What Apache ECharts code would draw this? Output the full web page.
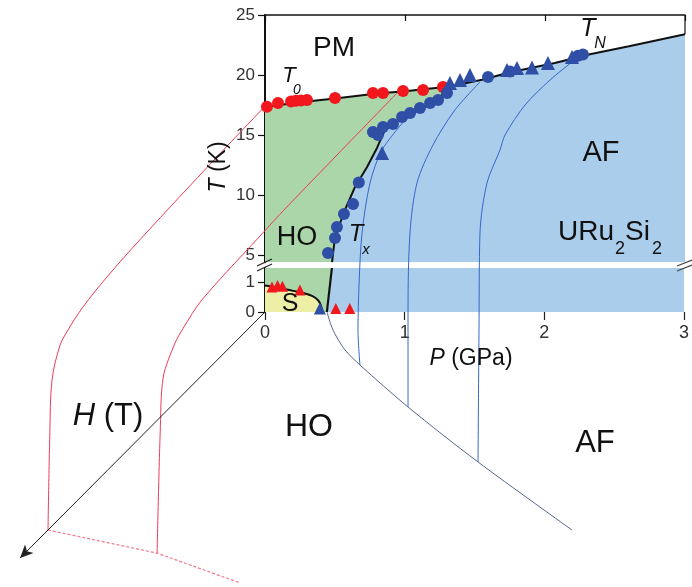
<!DOCTYPE html>
<html><head><meta charset="utf-8">
<script src="https://cdn.jsdelivr.net/npm/echarts@6/dist/echarts.min.js"></script>
<style>html,body{margin:0;padding:0;background:#fff}#c{width:692px;height:587px}</style>
</head><body><div id="c"></div>
<script>
// ---------- axis ticks ----------
const pTicks = [0, 1, 2, 3];
const tTicksUpper = [5, 10, 15, 20, 25];
const tTicksLower = [0, 1];

// ---------- phase boundaries (P in GPa, T in K) ----------
const t0Line = [[0,17.35],[0.3,17.8],[0.5,18.05],[0.8,18.45],[1.0,18.65],[1.32,19.05]];
const txLineUpper = [[0.479,4.4],[0.5,6.5],[0.571,8.75],[0.643,10.67],[0.729,12.33],[0.8,13.92],[0.857,15.42],[0.943,16.08],[1.1,17.1],[1.264,18.33],[1.32,19.05]];
const tnLine = [[1.32,19.05],[1.55,19.6],[1.76,20.25],[2.07,21.0],[2.33,21.75],[2.6,22.4],[3.0,23.4]];
const txLineLower = [[0.443,0],[0.479,1.5]];
const sBoundary = [[0,0.9],[0.1,0.82],[0.2,0.72],[0.28,0.64],[0.34,0.54],[0.38,0.4],[0.40,0.22],[0.412,0]];

// ---------- measured points ----------
const t0Points = [[0.014,17.35],[0.093,17.67],[0.186,17.8],[0.221,17.85],[0.257,17.88],[0.3,17.92],[0.5,18.08],[0.771,18.5],[0.843,18.5],[0.986,18.67],[1.129,18.75],[1.271,19.0]];
const txPoints = [[0.45,5.17],[0.5,6.42],[0.514,7.33],[0.564,8.42],[0.629,9.25],[0.67,11.05],[0.771,15.25],[0.807,15.0],[0.843,15.67],[0.914,15.92],[0.979,16.5],[1.036,16.83],[1.107,17.25],[1.179,17.67],[1.236,17.92],[1.3,18.5]];
const tnTriangles = [[0.836,13.5],[1.321,19.33],[1.393,19.58],[1.464,20.0],[1.729,20.42],[1.8,20.58],[1.907,20.62],[2.021,21.0],[2.193,21.5]];
const tnCircles = [[1.593,19.83],[1.75,20.3],[2.236,21.6],[2.271,21.7]];
const sTrianglesRed = [[0.05,0.85],[0.09,0.9],[0.125,0.88],[0.25,0.75]];
const zeroTrianglesRed = [[0.507,0.12],[0.607,0.12]];
const zeroTrianglesBlue = [[0.393,0.12]];

// ---------- perspective (H axis) curves ----------
// HO boundary T0(H) at fixed P
const hoCurveA_P = 0;
const hoCurveA_H = [0, 7.7, 20, 25.5, 29.4, 31.9, 33.1, 34.35, 34.7, 35];
const hoCurveA_T = [17.4, 17.2, 16.75, 16.4, 15.9, 15.2, 14.6, 12.4, 8.2, 0];
const hoCurveB_P = 0.943;
const hoCurveB_H = [0, 10.3, 18.9, 21, 31.45, 34.5, 35.8, 37.7, 38.2, 38.7];
const hoCurveB_T = [18.5, 18.35, 18.2, 18.1, 17.6, 16.8, 16.25, 14.4, 10, 0];
// HO critical field at T = 0
const hcLine_P = [0, 0.943, 1.75];
const hcLine_H = [35, 38.71, 43.5];
// AF boundary in P-H plane at T = 0
const afBase_P = [0.443, 0.564, 0.678, 0.842, 1.055, 1.697, 2.588, 3.743];
const afBase_H = [0, 2.09, 3.85, 6.1, 8.51, 15.25, 24.08, 35];
// TN(P) at fixed H
const afCurve1_H = 8.51;
const afCurve1_P = [1.055, 1.041, 1.049, 1.07, 1.127, 1.213, 1.377];
const afCurve1_T = [0, 1.19, 7.08, 11.25, 15.42, 18.17, 20.67];
const afCurve2_H = 15.25;
const afCurve2_P = [1.697, 1.697, 1.711, 1.761, 1.875, 2.032, 2.211];
const afCurve2_T = [0, 8.33, 14.75, 18.92, 22.08, 25.0, 27.33];
const afCurve3_H = 24.08;
const afCurve3_P = [2.588, 2.595, 2.602, 2.652, 2.745, 2.781, 2.924, 3.102, 3.259];
const afCurve3_T = [0, 11.25, 19.33, 23.5, 26.25, 27.5, 30.0, 32.08, 33.58];
const hAxisMax = 39.5;

// ---------- layout ----------
const L = {W:692, H:587, x0:265, pxPerGPa:140, upTop:15, upMin:4.4, upMax:25, pxPerKUp:12,
           lowTop:268, lowH:44, lowMax:1.5, hDx:6.2, hDy:6.229};
const upH = (L.upMax - L.upMin) * L.pxPerKUp;

function brokenToUpper(T){
  const yUp = t => L.upTop + (L.upMax - t) * L.pxPerKUp;
  const yLow = t => L.lowTop + L.lowH - t * (L.lowH / L.lowMax);
  let y;
  if (T >= L.upMin) y = yUp(T);
  else if (T <= L.lowMax) y = yLow(T);
  else { const f = (T - L.lowMax) / (L.upMin - L.lowMax); y = yLow(L.lowMax) + f * (yUp(L.upMin) - yLow(L.lowMax)); }
  return L.upMax - (y - L.upTop) / L.pxPerKUp;
}
function project(P, H, T){ return [P - H * L.hDx / L.pxPerGPa, brokenToUpper(T) - H * L.hDy / L.pxPerKUp]; }
const curveFixedP = (P, Hs, Ts) => Hs.map((h, i) => project(P, h, Ts[i]));
const curveFixedH = (H, Ps, Ts) => Ps.map((p, i) => project(p, H, Ts[i]));
const curveFixedT = (T, Ps, Hs) => Ps.map((p, i) => project(p, Hs[i], T));

const FONT = '"Liberation Sans", Arial, Helvetica, sans-serif';
const BLUE_FILL = '#aacdec', GREEN_FILL = '#aad6a9', YELLOW_FILL = '#eeefa6';
const RED_PT = '#f2171c', BLUE_PT = '#2f4ea6';
const RED_LINE = '#ee3b57', BLUE_LINE = '#3468c9';

function area(data, color, xi, yi, z){
  return {type:'line', xAxisIndex:xi, yAxisIndex:yi, data, symbol:'none', lineStyle:{width:0},
          areaStyle:{color, opacity:1, origin:'start'}, z, silent:true};
}
function line(data, color, width, xi, yi, z, extra){
  return Object.assign({type:'line', xAxisIndex:xi, yAxisIndex:yi, data, symbol:'none',
          lineStyle:{color, width}, z, silent:true, clip:false}, extra || {});
}
function pts(data, symbol, size, color, xi, yi, z){
  return {type:'scatter', xAxisIndex:xi, yAxisIndex:yi, data, symbol, symbolSize:size,
          itemStyle:{color, opacity:1}, z, silent:true, clip:false};
}
function txt(text, x, y, size, opts){
  return Object.assign({type:'text', x, y, z:100, style:Object.assign({text, fill:'#111',
    font: (opts && opts.italic ? 'italic ' : '') + size + 'px ' + FONT,
    fontSize:size, fontFamily:FONT, fontStyle:(opts && opts.italic) ? 'italic':'normal',
    align:(opts && opts.align) || 'center', textAlign:(opts && opts.align) || 'center',
    verticalAlign:'middle', textVerticalAlign:'middle'}, (opts && opts.style) || {})},
    (opts && opts.el) || {});
}

const chart = echarts.init(document.getElementById('c'), null, {renderer:'canvas'});
const axisLab = {color:'#333', fontSize:17, fontFamily:FONT};
const option = {
  animation:false,
  backgroundColor:'#fff',
  grid:[
    {left:L.x0, top:L.upTop, width:3*L.pxPerGPa, height:upH},
    {left:L.x0, top:L.lowTop, width:3*L.pxPerGPa, height:L.lowH},
    {left:0, top:0, width:L.W, height:L.H}
  ],
  xAxis:[
    {gridIndex:0, type:'value', min:0, max:3, show:false},
    {gridIndex:0, type:'value', min:0, max:3, interval:1, position:'top',
     axisLine:{show:true, lineStyle:{color:'#111', width:1.5}},
     axisTick:{show:true, inside:true, length:6, lineStyle:{color:'#111', width:1.2}},
     axisLabel:{show:false}, splitLine:{show:false}},
    {gridIndex:1, type:'value', min:0, max:3, interval:1, position:'bottom',
     axisLine:{show:false},
     axisTick:{show:true, length:8, lineStyle:{color:'#222', width:1.2}},
     axisLabel:Object.assign({margin:12, fontSize:18}, {color:'#333', fontFamily:FONT}),
     splitLine:{show:false}},
    {gridIndex:2, type:'value', min:-L.x0/L.pxPerGPa, max:(L.W-L.x0)/L.pxPerGPa, show:false}
  ],
  yAxis:[
    {gridIndex:0, type:'value', min:L.upMin, max:L.upMax,
     axisLine:{show:true, lineStyle:{color:'#111', width:2}},
     axisTick:{show:true, length:7, customValues:tTicksUpper, lineStyle:{color:'#111', width:1.2}},
     axisLabel:Object.assign({margin:10, customValues:tTicksUpper}, axisLab),
     splitLine:{show:false}},
    {gridIndex:1, type:'value', min:0, max:L.lowMax,
     axisLine:{show:true, lineStyle:{color:'#111', width:2}},
     axisTick:{show:true, length:7, customValues:tTicksLower, lineStyle:{color:'#111', width:1.2}},
     axisLabel:Object.assign({margin:10, customValues:tTicksLower}, axisLab),
     splitLine:{show:false}},
    {gridIndex:2, type:'value', min:L.upMax-(L.H-L.upTop)/L.pxPerKUp, max:L.upMax+L.upTop/L.pxPerKUp, show:false}
  ],
  series:[
    // fills (upper)
    area(t0Line, GREEN_FILL, 0, 0, 1),
    area(txLineUpper.concat(tnLine.slice(1)), BLUE_FILL, 0, 0, 1),
    // fills (lower)
    area([[0,1.5],[0.479,1.5]], GREEN_FILL, 2, 1, 1),
    area(txLineLower.concat([[3,1.5]]), BLUE_FILL, 2, 1, 1),
    area(sBoundary, YELLOW_FILL, 2, 1, 1),
    // perspective curves
    line(curveFixedP(hoCurveA_P, hoCurveA_H, hoCurveA_T), RED_LINE, 1, 3, 2, 3, {smooth:0.35}),
    line(curveFixedP(hoCurveB_P, hoCurveB_H, hoCurveB_T), RED_LINE, 1, 3, 2, 3, {smooth:0.3}),
    line(curveFixedT(0, hcLine_P, hcLine_H), '#f2788a', 1.2, 3, 2, 3, {lineStyle:{color:'#f2788a', width:1.2, type:[3,2]}}),
    line(curveFixedT(0, afBase_P, afBase_H), '#56658f', 1, 3, 2, 3, {smooth:0.3}),
    line(curveFixedH(afCurve1_H, afCurve1_P, afCurve1_T), BLUE_LINE, 1, 3, 2, 3, {smooth:0.3}),
    line(curveFixedH(afCurve2_H, afCurve2_P, afCurve2_T), BLUE_LINE, 1, 3, 2, 3, {smooth:0.3}),
    line(curveFixedH(afCurve3_H, afCurve3_P, afCurve3_T), BLUE_LINE, 1, 3, 2, 3, {smooth:0.3}),
    {type:'line', xAxisIndex:3, yAxisIndex:2, data:[], z:3, silent:true,
     markLine:{silent:true, symbol:['none','arrow'], symbolSize:[9,13], label:{show:false},
       lineStyle:{color:'#222', width:1, type:'solid'}, emphasis:{disabled:true},
       data:[[{coord:project(0,0,0)},{coord:project(0,hAxisMax,0)}]]}},
    // boundaries
    line(t0Line, '#111', 2, 0, 0, 4, {clip:true}),
    line(txLineUpper, '#111', 2, 0, 0, 4, {clip:true}),
    line(tnLine, '#111', 2, 0, 0, 4, {clip:true}),
    line([[3,23.4],[3,25]], '#111', 1.2, 0, 0, 4),
    line(txLineLower, '#111', 2.2, 2, 1, 4),
    line(sBoundary, '#111', 2, 2, 1, 4, {smooth:0.4}),
    // points
    pts(t0Points, 'circle', 12, RED_PT, 0, 0, 5),
    pts(txPoints, 'circle', 12, BLUE_PT, 0, 0, 5),
    pts(tnTriangles, 'triangle', 14, BLUE_PT, 0, 0, 5),
    pts(tnCircles, 'circle', 12, BLUE_PT, 0, 0, 5),
    pts(sTrianglesRed, 'triangle', 11, RED_PT, 2, 1, 5),
    pts(zeroTrianglesRed, 'triangle', 11, RED_PT, 2, 1, 5),
    pts(zeroTrianglesBlue, 'triangle', 12, BLUE_PT, 2, 1, 5)
  ],
  graphic:[
    txt('PM', 334, 48, 28),
    txt('T', 289, 76, 22, {italic:true}),
    txt('0', 297, 90, 14, {italic:true}),
    txt('HO', 297, 238, 27),
    txt('T', 356, 234, 24, {italic:true}),
    txt('x', 366, 250, 15, {italic:true}),
    txt('S', 290, 304, 25),
    txt('AF', 601, 153, 29),
    txt('URu', 558, 232, 28, {align:'left'}),
    txt('2', 615, 249, 18, {align:'left'}),
    txt('Si', 625, 232, 28, {align:'left'}),
    txt('2', 652, 249, 18, {align:'left'}),
    txt('T', 588, 29, 25, {italic:true}),
    txt('N', 600, 44, 16, {italic:true}),
    txt('{i|P} (GPa)', 471, 359, 23, {style:{rich:{i:{fontStyle:'italic', fontSize:23, fontFamily:FONT, fill:'#111'}}}}),
    txt('{i|T} (K)', 219, 167, 23, {style:{rich:{i:{fontStyle:'italic', fontSize:23, fontFamily:FONT, fill:'#111'}}}, el:{rotation:Math.PI/2}}),
    txt('{i|H} (T)', 108, 416, 31, {style:{rich:{i:{fontStyle:'italic', fontSize:31, fontFamily:FONT, fill:'#111'}}}}),
    txt('HO', 309, 427, 32),
    txt('AF', 595, 443, 31),
    // axis break marks
    {type:'line', z:100, shape:{x1:257, y1:266, x2:272, y2:259}, style:{stroke:'#222', lineWidth:1.2}},
    {type:'line', z:100, shape:{x1:257, y1:271, x2:272, y2:264}, style:{stroke:'#222', lineWidth:1.2}},
    {type:'line', z:100, shape:{x1:677, y1:266, x2:692, y2:260}, style:{stroke:'#444', lineWidth:1.2}},
    {type:'line', z:100, shape:{x1:677, y1:271, x2:692, y2:265}, style:{stroke:'#444', lineWidth:1.2}}
  ]
};
chart.setOption(option);
</script>
</body></html>
